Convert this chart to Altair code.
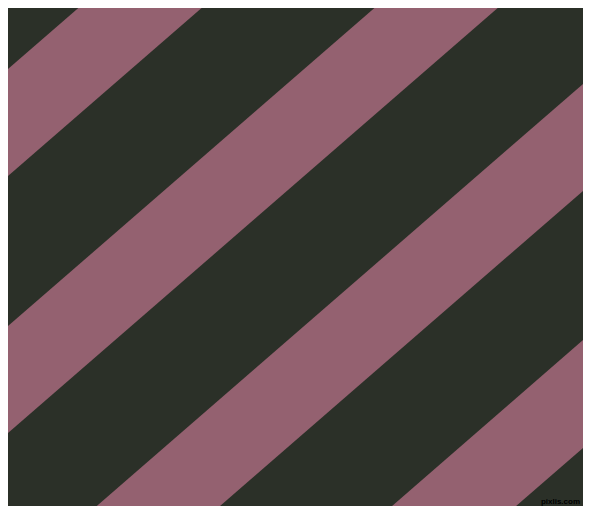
import altair as alt
import pandas as pd

# Image region (pixel coordinates of the original picture)
IMG_W, IMG_H = 591, 514
MARGIN = 8  # page margin; the chart shows the picture from (8, 8) to (583, 506)

# Mauve stripes: y (from top) of each edge, read at the left (x=0) and right (x=591) sides
stripe_id = [0, 1, 2, 3]
left_top = [76, 333, 590, 847]
left_bottom = [183, 440, 697, 954]
right_top = [-437, -180, 77, 333]
right_bottom = [-330, -73, 184, 441]

dark_color = "#2B3028"
mauve_color = "#946170"

rows = []
for i, s in enumerate(stripe_id):
    rows.append({"stripe": s, "x": 0, "top": left_top[i], "bottom": left_bottom[i]})
    rows.append({"stripe": s, "x": IMG_W, "top": right_top[i], "bottom": right_bottom[i]})
df = pd.DataFrame(rows)

xs = alt.Scale(domain=[MARGIN, IMG_W - MARGIN], nice=False, zero=False)
ys = alt.Scale(domain=[MARGIN, IMG_H - MARGIN], nice=False, zero=False, reverse=True)

stripes = alt.Chart(df).mark_area(color=mauve_color, clip=True, opacity=1).encode(
    x=alt.X("x:Q", scale=xs, axis=None),
    y=alt.Y("top:Q", scale=ys, axis=None),
    y2="bottom:Q",
    detail="stripe:N",
)

wm = pd.DataFrame({"x": [580], "y": [504], "label": ["pixlis.com"]})
watermark = alt.Chart(wm).mark_text(
    color="#000000", fontSize=8, font="Liberation Sans", fontWeight="bold",
    align="right", baseline="alphabetic",
).encode(
    x=alt.X("x:Q", scale=xs, axis=None),
    y=alt.Y("y:Q", scale=ys, axis=None),
    text="label:N",
)

chart = alt.layer(stripes, watermark).properties(
    width=IMG_W - 2 * MARGIN,
    height=IMG_H - 2 * MARGIN,
    background=dark_color,
    padding=0,
    autosize=alt.AutoSizeParams(type="none"),
).configure_view(stroke=None, fill=dark_color)

chart.save("out.html", embed_options={"renderer": "svg", "actions": False})
